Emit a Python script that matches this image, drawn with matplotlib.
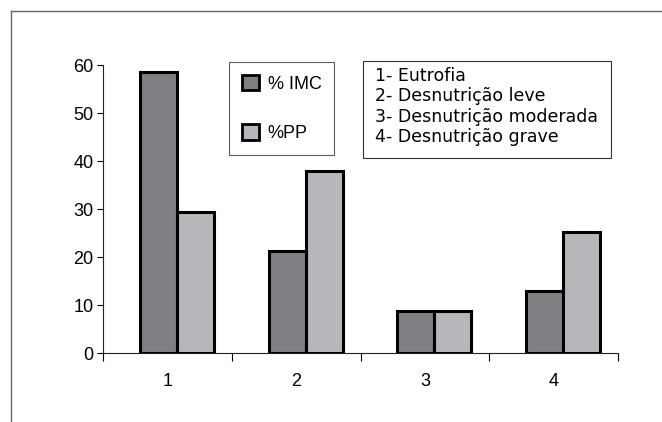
import numpy as np
import matplotlib
matplotlib.use('Agg')
import matplotlib.pyplot as plt
from matplotlib.patches import Rectangle, Patch
from matplotlib.lines import Line2D

# data
categories = ['1', '2', '3', '4']
imc = [58.5, 21.2, 8.8, 13.0]
pp = [29.4, 37.9, 8.8, 25.3]
series_names = ['% IMC', '%PP']
key_lines = ['1- Eutrofia', '2- Desnutrição leve',
             '3- Desnutrição moderada', '4- Desnutrição grave']

W, H = 662, 422
fig = plt.figure(figsize=(W / 100, H / 100), dpi=100)
ax = fig.add_axes([103.3 / W, 1 - 353.3 / H, (618 - 103.3) / W, (353.3 - 65) / H])

dark = '#808084'
light = '#b6b7bb'
w = 0.287
shift = 0.073
x = np.arange(len(categories)) + 0.5
ax.bar(x - w / 2 + shift, imc, w, color=dark, edgecolor='black', linewidth=2.2, zorder=3)
ax.bar(x + w / 2 + shift, pp, w, color=light, edgecolor='black', linewidth=2.2, zorder=3)

ax.set_xlim(0, len(categories))
ax.set_ylim(0, 60)
ax.set_yticks(range(0, 61, 10))
ax.set_xticks(range(0, len(categories) + 1))
ax.set_xticklabels([])
ax.set_xticks(x, minor=True)
ax.set_xticklabels(categories, minor=True)
ax.tick_params(axis='x', which='major', length=6, width=0.8, direction='out')
ax.tick_params(axis='x', which='minor', length=0, pad=14)
ax.tick_params(axis='y', length=4, width=0.8, direction='out', pad=3)
for lab in ax.get_xticklabels(minor=True) + ax.get_yticklabels():
    lab.set_family('Liberation Sans')
    lab.set_fontsize(13)
for s in ['top', 'right']:
    ax.spines[s].set_visible(False)
for s in ['left', 'bottom']:
    ax.spines[s].set_linewidth(0.8)
    ax.spines[s].set_color('#222222')

# series legend
handles = [Patch(facecolor=dark, edgecolor='black', linewidth=2),
           Patch(facecolor=light, edgecolor='black', linewidth=2)]
leg = fig.legend(handles, series_names, loc='upper left',
                 bbox_to_anchor=(229 / W, 1 - 62 / H), frameon=True, fancybox=False,
                 prop={'family': 'Liberation Sans', 'size': 13},
                 handlelength=0.95, handleheight=0.95, handletextpad=0.5,
                 labelspacing=1.75, borderpad=0.7, borderaxespad=0)
leg.get_frame().set_edgecolor('#333333')
leg.get_frame().set_linewidth(0.8)

# category key box
fig.patches.append(Rectangle((363 / W, 1 - 158 / H), (611 - 363) / W, (158 - 61) / H,
                             transform=fig.transFigure, facecolor='white',
                             edgecolor='#333333', linewidth=0.8))
fig.text(375 / W, 1 - 67 / H, '\n'.join(key_lines), ha='left', va='top',
         family='DejaVu Sans', fontsize=12.5, linespacing=1.17)

# outer frame (top and left edges only)
fig.add_artist(Line2D([11 / W, 1], [1 - 11 / H, 1 - 11 / H], transform=fig.transFigure,
                      color='#666666', linewidth=1))
fig.add_artist(Line2D([11 / W, 11 / W], [1 - 11 / H, 0], transform=fig.transFigure,
                      color='#666666', linewidth=1))

fig.savefig('out.png', dpi=100)
